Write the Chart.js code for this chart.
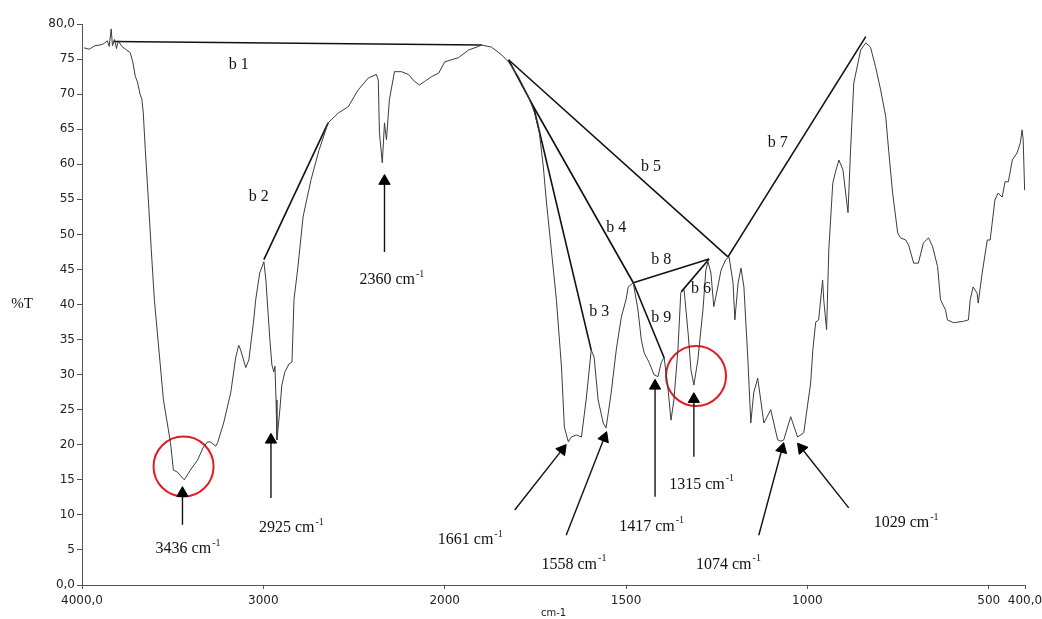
<!DOCTYPE html>
<html>
<head>
<meta charset="utf-8">
<script src="https://cdn.jsdelivr.net/npm/chart.js@4.4.1/dist/chart.umd.min.js"></script>
<style>
    html, body { margin: 0; padding: 0; background: #fff; }
    #wrap { width: 1042px; height: 619px; position: relative; }
</style>
</head>
<body>
<div id="wrap"><canvas id="irChart"></canvas></div>
<script>
// ---- data: [wavenumber cm-1, %T] ----
const spectrum = [
    [3989,76.6],[3960,76.4],[3930,76.9],[3900,77.0],[3880,77.2],[3860,77.6],[3850,76.8],[3839,79.3],[3832,76.9],[3820,77.8],
    [3810,76.5],[3800,77.6],[3780,76.8],[3760,76.4],[3734,75.9],[3720,74.6],[3706,72.5],[3695,71.8],[3679,69.9],[3670,69.3],
    [3662,67.3],[3651,62.1],[3634,54.9],[3618,47.8],[3601,40.7],[3551,26.4],[3512,20.3],[3496,16.4],[3474,16.1],[3450,15.4],
    [3436,15.0],[3402,16.4],[3363,17.8],[3330,19.7],[3308,20.4],[3291,20.4],[3263,19.8],[3252,20.3],[3219,23.1],[3180,27.4],
    [3152,32.5],[3136,34.2],[3125,33.5],[3097,31.0],[3080,32.1],[3053,37.8],[3042,40.7],[3020,44.5],[2997,46.1],[2986,43.5],
    [2975,39.2],[2964,35.0],[2953,31.4],[2942,30.4],[2936,31.2],[2930,26.4],[2925,20.7],[2909,25.0],[2898,28.5],[2881,30.4],
    [2859,31.5],[2842,31.8],[2831,40.7],[2809,45.4],[2781,52.5],[2737,57.8],[2693,62.0],[2643,65.9],[2587,67.3],[2532,68.2],
    [2477,70.6],[2421,72.3],[2377,72.8],[2366,72.0],[2360,64.5],[2344,60.2],[2332,65.9],[2321,63.5],[2305,69.2],[2277,73.2],
    [2238,73.2],[2200,72.8],[2166,71.8],[2139,71.3],[2111,71.8],[2072,72.5],[2033,73.0],[2000,74.6],[1962,75.2],[1934,76.3],
    [1912,76.7],[1898,77.0],[1871,76.7],[1843,75.6],[1824,74.6],[1797,72.5],[1769,69.6],[1752,67.3],[1739,64.5],[1728,59.6],
    [1720,54.9],[1706,47.8],[1692,40.7],[1678,31.1],[1670,22.5],[1659,20.4],[1651,21.1],[1637,21.4],[1623,21.1],[1610,26.4],
    [1596,33.5],[1588,32.5],[1577,26.4],[1563,23.1],[1555,22.4],[1541,27.4],[1527,33.5],[1513,38.2],[1500,40.7],[1494,42.5],
    [1480,43.1],[1467,39.2],[1458,35.0],[1450,33.1],[1436,31.7],[1423,30.0],[1412,29.7],[1403,31.7],[1395,32.5],[1384,27.8],
    [1376,23.5],[1368,26.4],[1357,33.5],[1349,41.7],[1340,42.1],[1329,36.0],[1321,30.7],[1313,28.5],[1302,32.1],[1288,39.2],
    [1280,44.9],[1274,46.1],[1266,44.5],[1258,39.7],[1252,41.2],[1238,44.9],[1225,46.4],[1216,46.8],[1205,43.1],[1200,37.8],
    [1191,43.1],[1183,45.2],[1175,42.5],[1164,32.1],[1156,23.1],[1148,27.4],[1137,29.5],[1120,23.1],[1101,25.0],[1082,20.7],
    [1073,20.5],[1065,20.7],[1046,24.0],[1027,21.1],[1010,21.7],[991,28.8],[985,33.5],[977,37.5],[969,37.8],[958,43.5],
    [955,40.7],[947,36.4],[941,47.8],[930,57.3],[921,59.2],[913,60.6],[902,59.2],[888,53.1],[881,62.0],[872,71.6],
    [853,76.3],[839,77.3],[826,76.7],[812,73.9],[798,70.6],[784,66.8],[776,62.0],[765,55.9],[751,50.2],[743,49.5],
    [729,49.2],[721,48.5],[707,45.9],[694,45.9],[680,48.8],[666,49.5],[655,48.3],[641,45.4],[633,40.7],[619,39.2],
    [614,37.8],[597,37.4],[570,37.6],[556,37.8],[551,40.7],[543,42.5],[532,41.6],[529,40.2],[518,44.5],[504,49.2],
    [496,49.2],[483,54.9],[474,55.9],[463,55.3],[455,57.5],[446,57.5],[435,60.6],[422,61.6],[413,63.0],[408,64.9],
    [405,63.5],[401,56.3]
];

// baselines b1..b9 drawn under the bands
const baselineNames = ['b 1', 'b 2', 'b 3', 'b 4', 'b 5', 'b 6', 'b 7', 'b 8', 'b 9'];
const baselinePoints = [
    [[3828, 77.5], [1898, 77.0]],
    [[2997, 46.4], [2643, 65.9]],
    [[1755, 68.2], [1596, 33.5]],
    [[1824, 74.9], [1755, 68.2], [1480, 43.1]],
    [[1824, 74.9], [1219, 46.8]],
    [[1348, 41.8], [1271, 46.5]],
    [[1219, 46.8], [839, 78.2]],
    [[1480, 43.1], [1271, 46.5]],
    [[1480, 43.1], [1395, 32.4]]
];
const baselineLabelAt = [[3136, 74.2], [3025, 55.3], [1574, 38.9], [1527, 50.9], [1431, 59.6], [1293, 42.2], [1082, 63.1], [1403, 46.4], [1403, 38.1]];

// marked peaks: arrow tail, arrow head and where the label sits
const peakNames = ['3436', '2925', '2360', '1661', '1558', '1417', '1315', '1074', '1029'];
const arrowTail = [[3446, 8.6], [2958, 12.4], [2332, 47.5], [1807, 10.7], [1665, 7.1], [1420, 12.6], [1313, 18.3], [1134, 7.1], [886, 11.0]];
const arrowHead = [[3446, 13.1], [2958, 20.7], [2332, 57.6], [1676, 19.3], [1560, 21.0], [1420, 28.4], [1313, 26.5], [1070, 19.4], [1016, 19.5]];
const peakLabelAt = [[3418, 5.1], [2848, 8.1], [2294, 43.5], [1931, 6.4], [1645, 2.9], [1431, 8.3], [1293, 14.3], [1219, 2.9], [729, 8.8]];

// red circles around the two highlighted bands
const circled = [[3440, 16.9], [1307, 29.8]];

const xTickValues = [4000, 3000, 2000, 1500, 1000, 500, 400];

// IR charts switch to a doubled scale below 2000 cm-1
function toPos(wn) { return wn >= 2000 ? (4000 - wn) / 2 : 1000 + (2000 - wn); }
function fromPos(p) { return p <= 1000 ? 4000 - 2 * p : 2000 - (p - 1000); }

class IRScale extends Chart.LinearScale {
    determineDataLimits() { this.min = 0; this.max = 2600; }
    buildTicks() { return xTickValues.map(v => ({ value: v })); }
    getPixelForValue(v) { return (v === null || v === undefined) ? NaN : super.getPixelForValue(toPos(v)); }
    getValueForPixel(p) { return fromPos(super.getValueForPixel(p)); }
}
IRScale.id = 'irscale';
IRScale.defaults = Chart.LinearScale.defaults;
Chart.register(IRScale);

const pts = arr => arr.map(p => ({ x: p[0], y: p[1] }));

function arrowAngle(ctx) {
    const d = ctx.dataset.data;
    const xs = ctx.chart.scales.x, ys = ctx.chart.scales.y;
    const dx = xs.getPixelForValue(d[1].x) - xs.getPixelForValue(d[0].x);
    const dy = ys.getPixelForValue(d[1].y) - ys.getPixelForValue(d[0].y);
    return Math.atan2(dx, -dy) * 180 / Math.PI;
}

const datasets = [];
datasets.push({
    data: pts(spectrum),
    borderColor: '#3c3c3c',
    borderWidth: 1,
    pointRadius: 0,
    tension: 0
});
baselinePoints.forEach(b => datasets.push({
    data: pts(b),
    borderColor: '#111',
    borderWidth: 1.6,
    pointRadius: 0
}));
arrowTail.forEach((t, i) => datasets.push({
    data: pts([t, arrowHead[i]]),
    borderColor: '#111',
    borderWidth: 1.4,
    pointRadius: [0, 6.5],
    pointStyle: 'triangle',
    pointBackgroundColor: '#000',
    pointBorderColor: '#000',
    pointBorderWidth: 1,
    pointRotation: arrowAngle
}));
datasets.push({
    data: pts(circled),
    showLine: false,
    pointRadius: 30,
    pointStyle: 'circle',
    pointBackgroundColor: 'rgba(0,0,0,0)',
    pointBorderColor: '#e31b23',
    pointBorderWidth: 2
});

const textPlugin = {
    id: 'irText',
    afterDatasetsDraw(chart) {
        const { ctx, scales: { x, y }, chartArea } = chart;
        ctx.save();
        ctx.fillStyle = '#111';
        ctx.textBaseline = 'middle';

        // band baseline names
        ctx.font = '16px "Liberation Serif"';
        ctx.textAlign = 'center';
        baselineNames.forEach((n, i) => {
            ctx.fillText(n, x.getPixelForValue(baselineLabelAt[i][0]), y.getPixelForValue(baselineLabelAt[i][1]));
        });

        // peak labels with superscript -1
        ctx.textAlign = 'left';
        peakNames.forEach((n, i) => {
            const main = n + ' cm';
            ctx.font = '16px "Liberation Serif"';
            const w1 = ctx.measureText(main).width;
            ctx.font = '10px "Liberation Serif"';
            const w2 = ctx.measureText('-1').width;
            const cx = x.getPixelForValue(peakLabelAt[i][0]);
            const cy = y.getPixelForValue(peakLabelAt[i][1]);
            const sx = cx - (w1 + w2) / 2;
            ctx.font = '16px "Liberation Serif"';
            ctx.fillText(main, sx, cy);
            ctx.font = '10px "Liberation Serif"';
            ctx.fillText('-1', sx + w1 + 1, cy - 6);
        });

        // y axis title, written level as in the original
        ctx.font = '15px "Liberation Serif"';
        ctx.textAlign = 'center';
        ctx.fillText('%T', 22, (chartArea.top + chartArea.bottom) / 2);
        ctx.restore();
    }
};

new Chart(document.getElementById('irChart'), {
    type: 'line',
    data: { datasets },
    options: {
        responsive: true,
        maintainAspectRatio: false,
        animation: false,
        events: [],
        layout: { autoPadding: false, padding: { top: 24, right: 17, left: 0, bottom: 0 } },
        plugins: { legend: { display: false }, tooltip: { enabled: false } },
        scales: {
            x: {
                type: 'irscale',
                afterFit: s => { s.height = 34; s.paddingRight = 0; s.paddingLeft = 0; },
                grid: { display: true, drawOnChartArea: false, tickLength: 4, color: '#555' },
                border: { display: true, color: '#555', width: 1 },
                ticks: {
                    autoSkip: false,
                    maxRotation: 0,
                    padding: 5,
                    color: '#222',
                    font: { family: 'DejaVu Sans', size: 12 },
                    callback: v => v === 4000 ? '4000,0' : v === 400 ? '400,0' : String(v)
                },
                title: { display: true, text: 'cm-1', color: '#222', padding: 0, font: { family: 'DejaVu Sans', size: 10 } }
            },
            y: {
                min: 0,
                max: 80,
                afterFit: s => { s.width = 82; },
                grid: { display: true, drawOnChartArea: false, tickLength: 5, color: '#555' },
                border: { display: true, color: '#555', width: 1 },
                ticks: {
                    stepSize: 5,
                    padding: 2,
                    color: '#222',
                    font: { family: 'DejaVu Sans', size: 12 },
                    callback: v => v === 0 ? '0,0' : v === 80 ? '80,0' : String(v)
                }
            }
        }
    },
    plugins: [textPlugin]
});
</script>
</body>
</html>
